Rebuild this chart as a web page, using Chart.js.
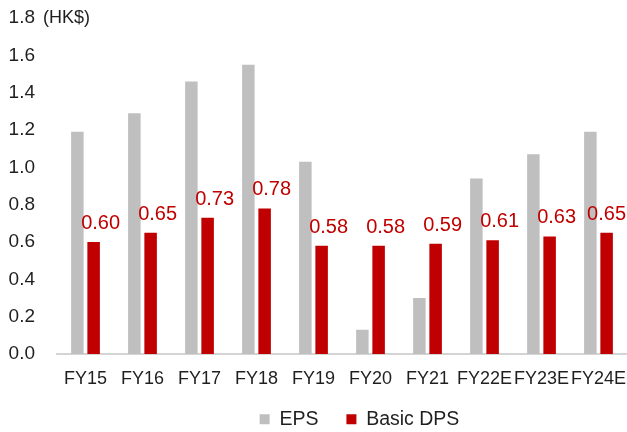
<!DOCTYPE html>
<html>
<head>
<meta charset="utf-8">
<script src="https://cdn.jsdelivr.net/npm/chart.js@4/dist/chart.umd.min.js"></script>
<style>
  html, body { margin: 0; padding: 0; background: #ffffff; }
  #wrap { width: 627px; height: 432px; position: relative; }
</style>
</head>
<body>
<div id="wrap"><canvas id="c"></canvas></div>
<script>
// Fiscal years (E = estimate)
const years = ['FY15', 'FY16', 'FY17', 'FY18', 'FY19', 'FY20', 'FY21', 'FY22E', 'FY23E', 'FY24E'];
// Earnings per share, HK$
const eps = [1.19, 1.29, 1.46, 1.55, 1.03, 0.13, 0.30, 0.94, 1.07, 1.19];
// Basic dividend per share, HK$
const basicDps = [0.60, 0.65, 0.73, 0.78, 0.58, 0.58, 0.59, 0.61, 0.63, 0.65];
// Value axis
const yMin = 0, yMax = 1.8, yStep = 0.2;
const unitLabel = '(HK$)';

const FONT = '"Liberation Sans", Arial, sans-serif';
const TEXT = '#1f1f1f';
const GREY = '#bfbfbf';
const RED = '#c00000';

// Plot frame
const PLOT_TOP = 18, PLOT_BOTTOM = 354, PLOT_LEFT = 57;

// Value labels above the dividend bars, plus the unit caption at the top of the axis
const annotate = {
  id: 'annotate',
  afterDatasetsDraw(chart) {
    const ctx = chart.ctx;
    const meta = chart.getDatasetMeta(1);
    ctx.save();
    ctx.font = '20px ' + FONT;
    ctx.fillStyle = RED;
    ctx.textAlign = 'center';
    ctx.textBaseline = 'alphabetic';
    meta.data.forEach((bar, i) => {
      const txt = basicDps[i].toFixed(2);
      const w = ctx.measureText(txt).width;
      let x = bar.x + 7;
      x = Math.min(x, chart.width - w / 2 - 1);
      ctx.fillText(txt, x, bar.y - 13);
    });
    const ys = chart.scales.y;
    ctx.font = '18px ' + FONT;
    ctx.fillStyle = TEXT;
    ctx.textAlign = 'left';
    ctx.textBaseline = 'middle';
    ctx.fillText(unitLabel, chart.chartArea.left - 14, ys.getPixelForValue(yMax));
    ctx.restore();
  }
};

// Place the bottom legend under the middle of the plot and let the
// category labels draw below the (thin) x-axis box without clipping
const arrange = {
  id: 'arrange',
  afterLayout(chart) {
    const lg = chart.legend;
    if (lg) { lg.left += 46; lg.right += 46; lg.top += 7; lg.bottom += 7; }
    const xs = chart.scales.x;
    xs.bottom = Math.max(xs.bottom, xs.top + 44);
  }
};

new Chart(document.getElementById('c'), {
  type: 'bar',
  data: {
    labels: years,
    datasets: [
      { label: 'EPS', data: eps, backgroundColor: GREY, borderWidth: 0,
        categoryPercentage: 0.57, barPercentage: 0.77 },
      { label: 'Basic DPS', data: basicDps, backgroundColor: RED, borderWidth: 0,
        categoryPercentage: 0.57, barPercentage: 0.77 }
    ]
  },
  options: {
    responsive: true,
    maintainAspectRatio: false,
    animation: false,
    layout: { padding: { top: PLOT_TOP, left: 0, right: 0, bottom: 0 } },
    plugins: {
      legend: {
        position: 'bottom',
        labels: {
          boxWidth: 10, boxHeight: 10, padding: 28,
          color: TEXT, font: { family: FONT, size: 19.5 }
        }
      },
      tooltip: { enabled: false }
    },
    scales: {
      x: {
        grid: { display: false, drawTicks: false },
        border: { display: true, color: '#d4d4d4', width: 2 },
        ticks: { color: TEXT, font: { family: FONT, size: 18 }, padding: 14, maxRotation: 0, autoSkip: false },
        afterFit(s) {
          const lgH = s.chart.legend ? s.chart.legend.height : 0;
          s.height = s.chart.height - PLOT_BOTTOM - lgH;
          s.paddingLeft = 0; s.paddingRight = 0;
        }
      },
      y: {
        min: yMin, max: yMax,
        grid: { display: false, drawTicks: false },
        border: { display: false },
        ticks: {
          stepSize: yStep, color: TEXT, padding: 22,
          font: { family: FONT, size: 19 },
          callback: v => Number(v).toFixed(1)
        },
        afterFit(s) { s.width = PLOT_LEFT; s.paddingTop = 0; s.paddingBottom = 0; }
      }
    }
  },
  plugins: [annotate, arrange]
});
</script>
</body>
</html>
